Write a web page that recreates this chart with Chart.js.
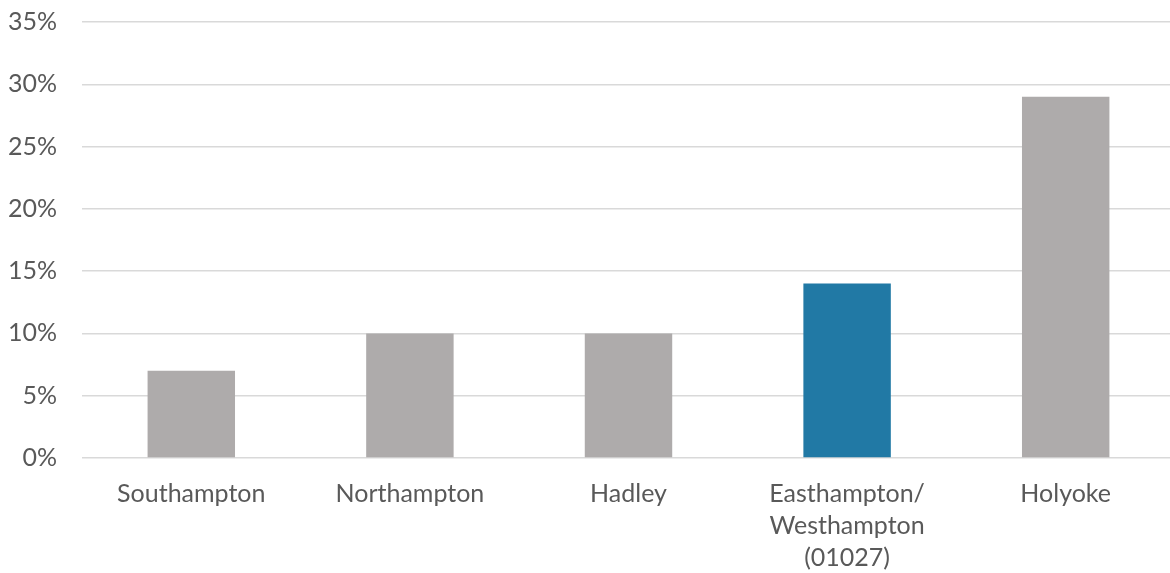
<!DOCTYPE html>
<html>
<head>
<meta charset="utf-8">
<script src="https://cdn.jsdelivr.net/npm/chart.js@4/dist/chart.umd.min.js"></script>
<style>
html,body{margin:0;padding:0;background:#fff;overflow:hidden;width:1170px;height:573px;}
#wrap{width:1175px;height:573px;position:relative;}
</style>
</head>
<body>
<div id="wrap"><canvas id="c" width="1175" height="573"></canvas></div>
<script>
const categories = ["Southampton", "Northampton", "Hadley", ["Easthampton/", "Westhampton", "(01027)"], "Holyoke"];
const values = [7, 10, 10, 14, 29];
const barColors = ["#AEABAB", "#AEABAB", "#AEABAB", "#2179A5", "#AEABAB"];
const yTicks = [0, 5, 10, 15, 20, 25, 30, 35];

new Chart(document.getElementById('c'), {
  type: 'bar',
  data: {
    labels: categories,
    datasets: [{
      data: values,
      backgroundColor: barColors,
      borderWidth: 0,
      barPercentage: 0.4,
      categoryPercentage: 1.0
    }]
  },
  options: {
    responsive: false,
    animation: false,
    devicePixelRatio: 1,
    layout: { padding: { top: 22, right: 0, left: 0, bottom: 0 } },
    plugins: { legend: { display: false }, tooltip: { enabled: false } },
    scales: {
      x: {
        grid: { display: false, drawTicks: false },
        border: { display: false },
        ticks: {
          color: '#595959',
          font: { family: 'Lato', size: 25, lineHeight: 1.28 },
          padding: 20,
          maxRotation: 0,
          autoSkip: false
        },
        afterFit: (s) => { s.height = 115; s.paddingLeft = 0; s.paddingRight = 0; }
      },
      y: {
        min: 0, max: 35,
        afterBuildTicks: (s) => { s.ticks = yTicks.map(v => ({ value: v })); },
        grid: { color: '#D9D9D9', lineWidth: 1.5, drawTicks: false },
        border: { display: false },
        ticks: {
          color: '#595959',
          font: { family: 'Lato', size: 25 },
          padding: 25,
          callback: (v) => v + '%'
        },
        afterFit: (s) => { s.width = 82; s.paddingTop = 0; s.paddingBottom = 0; }
      }
    }
  }
});
</script>
</body>
</html>
